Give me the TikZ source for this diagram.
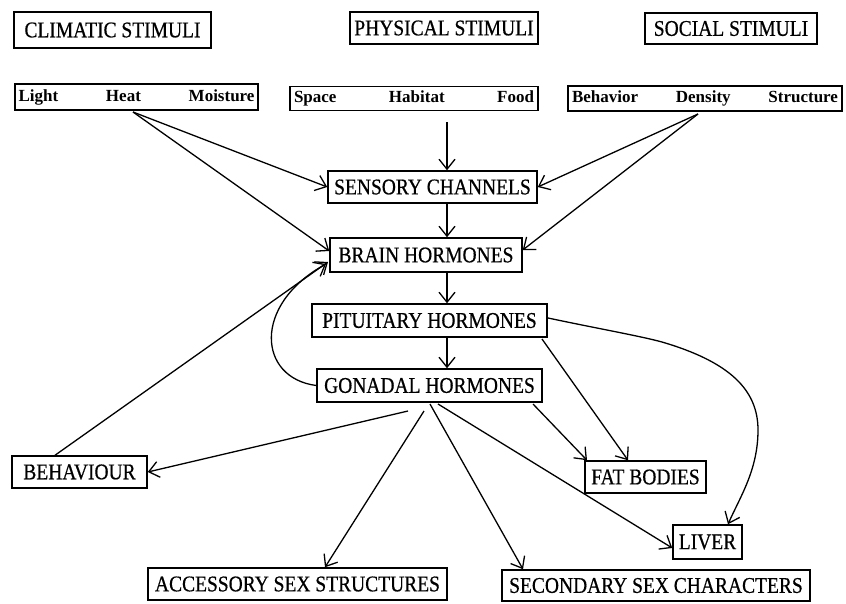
\documentclass[tikz,border=0pt]{standalone}
\usepackage{fontspec}
\usepackage{graphicx}
\setmainfont{Liberation Serif}
\newfontfamily\heavyserif[FakeBold=0.6]{Liberation Serif}
\newcommand\tallcaps[1]{\scalebox{1}[1.15]{#1}}
\usetikzlibrary{arrows.meta}
\begin{document}
\begin{tikzpicture}[x=1pt,y=-1pt,
  box/.style={draw,line width=1.5pt,rectangle,inner sep=0pt,align=center,font=\heavyserif\fontsize{19.5}{22}\selectfont},
  rowbox/.style={draw,line width=1.5pt,rectangle,inner sep=0pt,font=\bfseries\fontsize{17}{19}\selectfont},
  arr/.style={line width=1.3pt,-{Straight Barb[length=10pt,width=16pt,line width=1.3pt]}}]
\useasboundingbox (0,0) rectangle (846,603);

% stimulus headings
\node[box,minimum width=197pt,minimum height=36pt] (clim) at (112.5,30) {\tallcaps{CLIMATIC STIMULI}};
\node[box,minimum width=188pt,minimum height=32pt] (phys) at (444,28) {\tallcaps{PHYSICAL STIMULI}};
\node[box,minimum width=172pt,minimum height=31pt] (soc) at (731,28.5) {\tallcaps{SOCIAL STIMULI}};

% stimulus rows
\node[rowbox,minimum width=243pt,minimum height=26pt] (lhm) at (136.5,97) {\makebox[236pt][s]{Light\hfill Heat\hfill Moisture}};
\node[rowbox,minimum width=248pt,minimum height=24pt] (shf) at (414,98.5) {\makebox[240pt][s]{Space\hfill Habitat\hfill Food}};
\node[rowbox,minimum width=274pt,minimum height=25pt] (bds) at (705,98.5) {\makebox[266pt][s]{Behavior\hfill Density\hfill Structure}};

% main chain
\node[box,minimum width=209pt,minimum height=32pt] (sens) at (432.5,187) {\tallcaps{SENSORY CHANNELS}};
\node[box,minimum width=192pt,minimum height=34pt] (brain) at (426,255) {\tallcaps{BRAIN HORMONES}};
\node[box,minimum width=235pt,minimum height=33pt] (pit) at (429.5,320.5) {\tallcaps{PITUITARY HORMONES}};
\node[box,minimum width=225pt,minimum height=33pt] (gon) at (429.5,385.5) {\tallcaps{GONADAL HORMONES}};

% targets
\node[box,minimum width=135pt,minimum height=32pt] (behav) at (79.5,472) {\tallcaps{BEHAVIOUR}};
\node[box,minimum width=121pt,minimum height=32pt] (fat) at (645.5,477) {\tallcaps{FAT BODIES}};
\node[box,minimum width=69pt,minimum height=34pt] (liver) at (707.5,542) {\tallcaps{LIVER}};
\node[box,minimum width=299pt,minimum height=32pt] (acc) at (297.5,584) {\tallcaps{ACCESSORY SEX STRUCTURES}};
\node[box,minimum width=308pt,minimum height=31pt] (sec) at (656,585.5) {\tallcaps{SECONDARY SEX CHARACTERS}};

% connector end points
\coordinate (vx) at (447,0);
\coordinate (heat) at (133,112);
\coordinate (shfout) at (447,122);
\coordinate (dens) at (698,114);
\coordinate (gonA) at (408,411);
\coordinate (gonB) at (424,411);
\coordinate (gonC) at (430,404);
\coordinate (gonD) at (438,404);
\coordinate (gonE) at (533,404);
\coordinate (pitA) at (542,339);
\coordinate (pitB) at (548,318);

% inputs
\draw[arr] (heat) -- (sens.west);
\draw[arr] (heat) -- ([yshift=4pt]brain.west);
\draw[arr] (shfout) -- (sens.north -| vx);
\draw[arr] (dens) -- (sens.east);
\draw[arr] (dens) -- ([yshift=5pt]brain.east);

% chain
\draw[arr] (sens.south -| vx) -- (brain.north -| vx);
\draw[arr] (brain.south -| vx) -- (pit.north -| vx);
\draw[arr] (pit.south -| vx) -- (gon.north -| vx);

% feedback
\draw[arr] (behav.north -| 55,0) -- (328,262);
\draw[arr] (gon.west) .. controls (258,378) and (252,305) .. (326,264);

% pituitary outputs
\draw[arr] (pitA) -- (fat.north -| 628,0);
\draw[arr] (pitB) .. controls (600,329) and (640,336) .. (662,342)
  .. controls (730,362) and (758,390) .. (758,430)
  .. controls (758,470) and (740,497) .. (liver.north -| 728,0);

% gonadal outputs
\draw[arr] (gonE) -- (fat.north -| 587,0);
\draw[arr] (gonA) -- (behav.east);
\draw[arr] (gonB) -- (acc.north -| 325,0);
\draw[arr] (gonC) -- (sec.north -| 523,0);
\draw[arr] (gonD) -- ([yshift=-6pt]liver.west);
\end{tikzpicture}
\end{document}
